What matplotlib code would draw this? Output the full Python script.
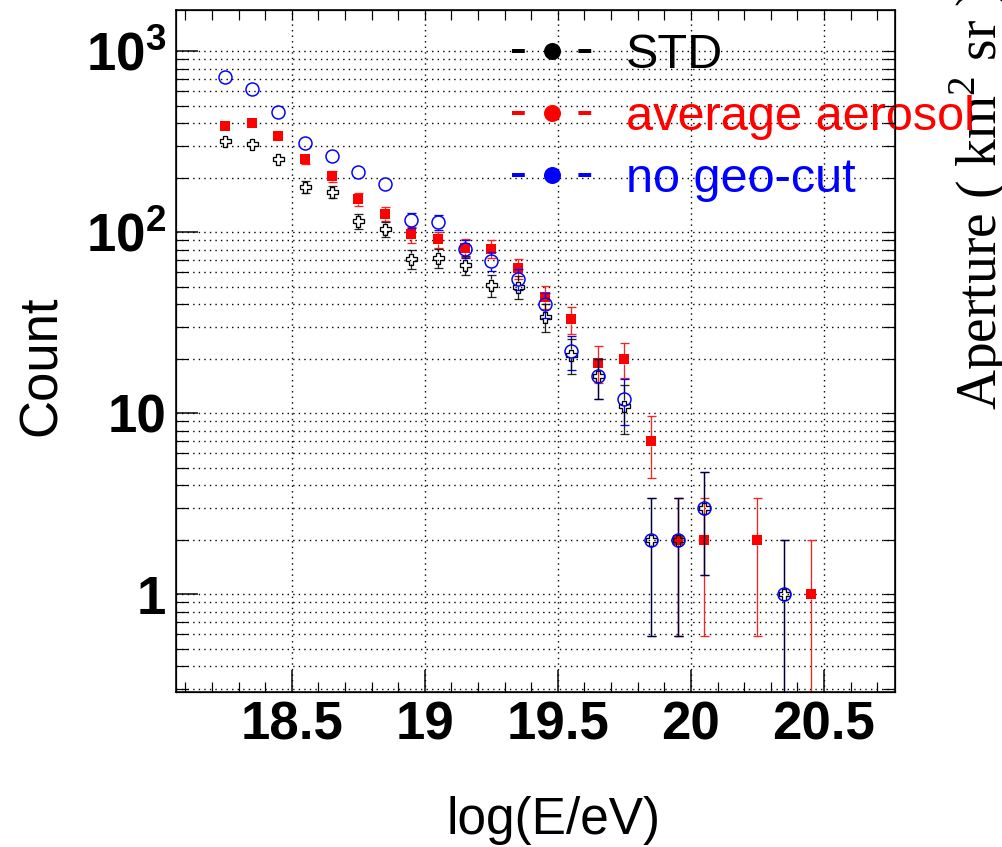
import numpy as np
import matplotlib
matplotlib.use("Agg")
import matplotlib.pyplot as plt
from matplotlib.lines import Line2D
from matplotlib.ticker import FixedLocator, MultipleLocator, LogLocator, NullFormatter, NullLocator

plt.rcParams["font.family"] = ["Liberation Sans", "DejaVu Sans"]
plt.rcParams["mathtext.fontset"] = "custom"
plt.rcParams["mathtext.rm"] = "Liberation Serif"
plt.rcParams["mathtext.bf"] = "Liberation Sans:bold"

# bin centres in log10(E/eV)
log_e = [18.25, 18.35, 18.45, 18.55, 18.65, 18.75, 18.85, 18.95, 19.05, 19.15,
         19.25, 19.35, 19.45, 19.55, 19.65, 19.75, 19.85, 19.95, 20.05, 20.15,
         20.25, 20.35, 20.45]

# event counts per bin (nan = empty bin)
std_counts = [320, 306, 252, 177, 167, 115, 104, 71, 72, 66,
              51, 50, 34, 21, 16, 11, 2, 2, 3, np.nan,
              np.nan, 1, np.nan]
aerosol_counts = [384, 399, 338, 254, 204, 152, 126, 97, 91, 82,
                  81, 63, 44, 33, 19, 20, 7, 2, 2, np.nan,
                  2, np.nan, 1]
nogeo_counts = [716, 614, 460, 311, 264, 214, 185, 116, 113, 81,
                69, 55, 40, 22, 16, 12, 2, 2, 3, np.nan,
                np.nan, 1, np.nan]

series_labels = ["STD", "average aerosol", "no geo-cut"]
series_colors = ["black", "#ff0000", "#0000ff"]

x_tick_values = [18.5, 19.0, 19.5, 20.0, 20.5]
x_tick_labels = ["18.5", "19", "19.5", "20", "20.5"]
y_tick_values = [1, 10, 100, 1000]
y_tick_labels = ["1", "10", r"$\mathbf{10^{2}}$", r"$\mathbf{10^{3}}$"]

W, H = 1003, 847
PX = 72.0 / 100  # points per pixel

fig = plt.figure(figsize=(W / 100, H / 100), dpi=100)
ax = fig.add_axes([176 / W, 1 - 692 / H, (895 - 176) / W, (692 - 10) / H])
ax.set_yscale("log")
ax.set_xlim(18.065, 20.767)
ax.set_ylim(0.2875, 1686)


def poisson_bars(ax, x, y, color, half_px, zorder, alpha=1.0):
    """sqrt(N) error bars, drawn only outside the marker like ROOT does"""
    err = np.sqrt(y)
    ppd = ax.transData.transform((0, 10))[1] - ax.transData.transform((0, 1))[1]
    edge = 10 ** (half_px / ppd)
    hi = y + err
    lo = np.clip(y - err, 1e-3, None)
    up = hi > y * edge
    dn = lo < y / edge
    kw = dict(color=color, linewidth=1.3 * PX, zorder=zorder, alpha=alpha)
    ax.vlines(x[up], y[up] * edge, hi[up], **kw)
    ax.vlines(x[dn], lo[dn], y[dn] / edge, **kw)
    cap = dict(linestyle="none", marker="_", markersize=9 * PX,
               markeredgewidth=1.3 * PX, color=color, zorder=zorder, alpha=alpha)
    ax.plot(x[up], hi[up], **cap)
    ax.plot(x[dn], lo[dn], **cap)


x = np.array(log_e)
std = np.array(std_counts, dtype=float)
aer = np.array(aerosol_counts, dtype=float)
nog = np.array(nogeo_counts, dtype=float)

poisson_bars(ax, x, aer, "#ff2020", 5.0, 2.0)
ax.plot(x, aer, linestyle="none", marker="s", color="#ff0000",
        markersize=9.5 * PX, markeredgewidth=0, zorder=2.05)

poisson_bars(ax, x, nog, "#0000ff", 6.5, 2.1)
poisson_bars(ax, x, std, "black", 5.5, 2.2, alpha=0.85)
ax.plot(x, std, linestyle="none", marker="P", markerfacecolor="none",
        markeredgecolor="black", markersize=11 * PX, markeredgewidth=1.3 * PX, zorder=2.3)
ax.plot(x, nog, linestyle="none", marker="o", markersize=13 * PX,
        markerfacecolor="none", markeredgecolor="#0000ff",
        markeredgewidth=1.5 * PX, zorder=2.4)

# grid
grid_ls = (0, (1, 3))
ax.xaxis.set_major_locator(FixedLocator(x_tick_values))
ax.xaxis.set_minor_locator(MultipleLocator(0.1))
ax.set_xticklabels(x_tick_labels, fontsize=38, fontweight="bold")
ax.yaxis.set_major_locator(FixedLocator(y_tick_values))
ax.yaxis.set_minor_locator(LogLocator(base=10, subs=range(2, 10)))
ax.yaxis.set_minor_formatter(NullFormatter())
ax.set_yticklabels(y_tick_labels, fontsize=38, fontweight="bold")
ax.grid(True, which="major", axis="x", color="black", linestyle=grid_ls, linewidth=1.0)
ax.grid(True, which="both", axis="y", color="black", linestyle=grid_ls, linewidth=1.0)
ax.set_axisbelow(True)

ax.tick_params(axis="x", which="major", direction="in", length=22 * PX, width=1.5 * PX, pad=6)
ax.tick_params(axis="x", which="minor", direction="in", length=10 * PX, width=1.2 * PX)
ax.tick_params(axis="y", which="major", direction="in", length=22 * PX, width=1.5 * PX, pad=7)
ax.tick_params(axis="y", which="minor", direction="in", length=12 * PX, width=1.2 * PX)
for s in ax.spines.values():
    s.set_linewidth(1.6 * PX)

# mirrored ticks on the top and right frame edges
ax_top = ax.twiny()
ax_top.set_xlim(ax.get_xlim())
ax_top.xaxis.set_major_locator(MultipleLocator(0.1))
ax_top.xaxis.set_minor_locator(NullLocator())
ax_top.tick_params(axis="x", direction="in", length=10 * PX, width=1.2 * PX, labeltop=False)

ax_right = ax.twinx()
ax_right.set_yscale("log")
ax_right.set_ylim(ax.get_ylim())
ax_right.yaxis.set_major_locator(FixedLocator(y_tick_values))
ax_right.yaxis.set_minor_locator(LogLocator(base=10, subs=range(2, 10)))
ax_right.yaxis.set_minor_formatter(NullFormatter())
ax_right.tick_params(axis="y", which="both", direction="in", length=12 * PX,
                     width=1.2 * PX, labelright=False)

# axis titles
fig.text(553 / W, 1 - 834 / H, "log(E/eV)", fontsize=37, ha="center", va="baseline")
fig.text(56 / W, 1 - 366 / H, "Count", fontsize=38, rotation=90,
         rotation_mode="anchor", ha="center", va="baseline")
ax.text(997 / W, 1 - 410 / H, r"Aperture ( km$^{2}$ sr )", transform=fig.transFigure,
        family=["Liberation Serif", "DejaVu Serif"], fontsize=40, rotation=90,
        rotation_mode="anchor", ha="left", va="baseline", clip_on=False, zorder=3)

# legend
handles = [Line2D([0], [0], color=c, linestyle=(0, (3.2, 13.4)), linewidth=4 * PX,
                  marker="o", markersize=17 * PX, markeredgewidth=0)
           for c in series_colors]
ax.legend(handles, series_labels, loc="upper left",
          bbox_to_anchor=(512 / W, 1 - 33 / H), bbox_transform=fig.transFigure,
          frameon=False, fontsize=35, labelcolor=series_colors,
          handlelength=1.646, handletextpad=0.7, labelspacing=0.35,
          borderpad=0, borderaxespad=0)

fig.savefig("out.png", dpi=100)
